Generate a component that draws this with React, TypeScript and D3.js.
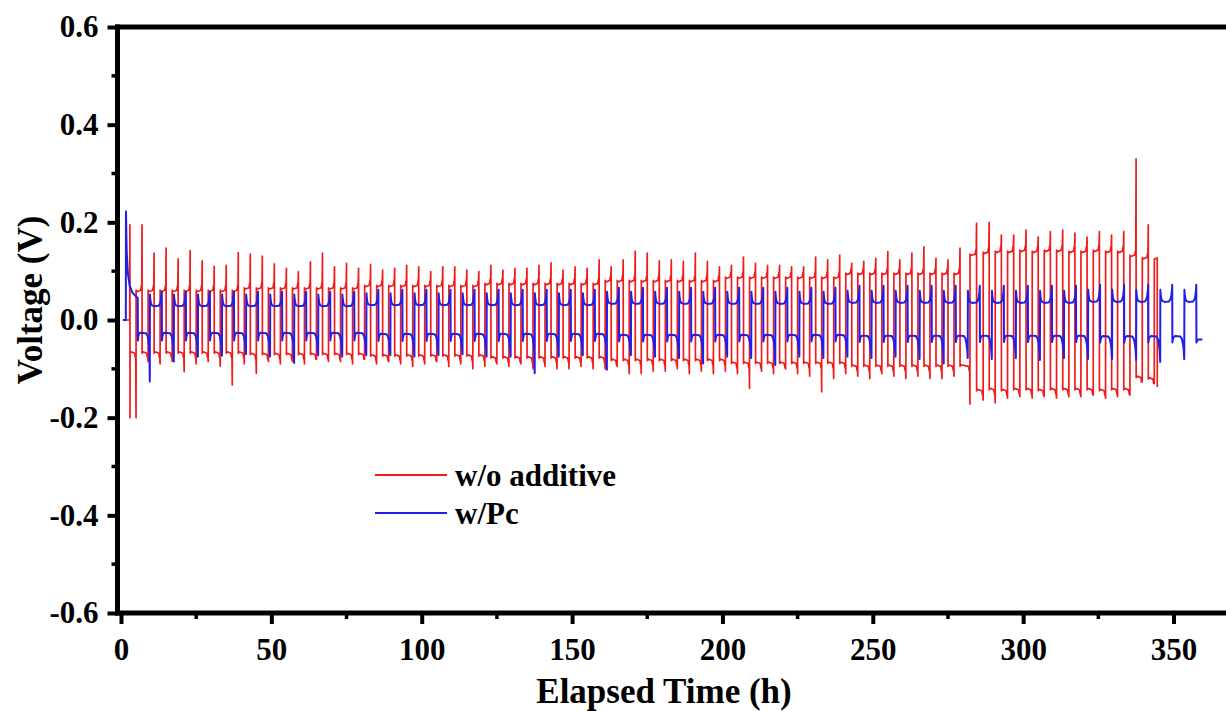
import React, { useEffect, useRef } from 'react';
import * as d3 from 'd3';

type Pt = [number, number];

// axis ticks
const yMajorTicks = [-0.6, -0.4, -0.2, 0, 0.2, 0.4, 0.6];
const yMinorTicks = [-0.5, -0.3, -0.1, 0.1, 0.3, 0.5];
const xMajorTicks = [0, 50, 100, 150, 200, 250, 300, 350];
const xMinorTicks = [25, 75, 125, 175, 225, 275, 325, 375];

const seriesNames = ['w/o additive', 'w/Pc'];
const seriesColors = ['#f01c1c', '#1f1fe6'];

// ---- w/o additive ----
// stage 1: 2 h / 2 h cycles, positive half of cycle k ends at redFirstTop + 4k
const redFirstTop = 3.0;
const redCycleHours = 4.0;
const redLead: Pt[] = [[0.7, 0], [2.9, 0], [2.95, 0.195], [3.0, -0.2]];
// spike at the end of each positive half (k = 0..69)
const redTop = [
  0.195, 0.195, 0.137, 0.147, 0.125, 0.142, 0.121, 0.110, 0.112, 0.138,
  0.135, 0.131, 0.115, 0.106, 0.099, 0.119, 0.137, 0.109, 0.116, 0.106,
  0.114, 0.102, 0.106, 0.112, 0.109, 0.099, 0.109, 0.109, 0.102, 0.099,
  0.112, 0.102, 0.106, 0.106, 0.112, 0.117, 0.102, 0.109, 0.106, 0.123,
  0.109, 0.123, 0.141, 0.137, 0.121, 0.123, 0.120, 0.137, 0.120, 0.109,
  0.112, 0.129, 0.116, 0.112, 0.112, 0.109, 0.109, 0.129, 0.123, 0.133,
  0.116, 0.120, 0.126, 0.140, 0.123, 0.137, 0.150, 0.126, 0.123, 0.147,
];
// spike at the end of each negative half (k = 0..68)
const redBottom = [
  -0.2, -0.085, -0.09, -0.085, -0.106, -0.09, -0.085, -0.095, -0.133, -0.09,
  -0.109, -0.085, -0.09, -0.085, -0.09, -0.08, -0.085, -0.085, -0.09, -0.08,
  -0.09, -0.085, -0.09, -0.095, -0.09, -0.085, -0.095, -0.09, -0.1, -0.095,
  -0.09, -0.095, -0.09, -0.1, -0.095, -0.1, -0.1, -0.095, -0.1, -0.1,
  -0.095, -0.11, -0.11, -0.105, -0.105, -0.1, -0.11, -0.105, -0.11, -0.105,
  -0.11, -0.14, -0.105, -0.11, -0.1, -0.11, -0.115, -0.147, -0.12, -0.11,
  -0.115, -0.12, -0.11, -0.115, -0.12, -0.115, -0.12, -0.12, -0.115,
];
// plateau levels, one per block of 10 cycles
const redHiLevel = [0.058, 0.063, 0.068, 0.072, 0.078, 0.085, 0.093];
const redLoLevel = [-0.065, -0.068, -0.071, -0.075, -0.08, -0.086, -0.092];

// stage 2 (after ~282 h, larger polarisation)
const red2BottomTimes = [282.3, 286.7, 290.7, 294.8, 298.9, 303.0, 307.0, 311.1, 315.2, 319.2, 323.3, 327.4, 331.4, 335.5, 339.6, 343.6];
const red2Bottom = [-0.172, -0.164, -0.17, -0.16, -0.157, -0.16, -0.157, -0.16, -0.157, -0.157, -0.154, -0.16, -0.157, -0.154, -0.123, -0.13];
const red2Top = [0.198, 0.2, 0.174, 0.174, 0.184, 0.17, 0.181, 0.184, 0.178, 0.17, 0.181, 0.174, 0.181, 0.33, 0.195];
const red2HiLevel = [0.132, 0.136, 0.138, 0.138, 0.14, 0.138, 0.14, 0.14, 0.138, 0.138, 0.14, 0.138, 0.138, 0.13, 0.125, 0.125];
const red2LoLevel = [-0.142, -0.14, -0.142, -0.14, -0.14, -0.142, -0.14, -0.14, -0.14, -0.14, -0.142, -0.14, -0.14, -0.115, -0.118];
const redEnd = 344.6;
const redEndValue = -0.137;

// ---- w/Pc ----
// 4 h / 4 h cycles, upper half of cycle m starts at blueFirstRise + 8m
const blueFirstRise = 1.6;
const blueCycleHours = 8.0;
const blueLead: Pt[] = [
  [0.6, 0], [1.6, 0], [1.65, 0.222], [1.9, 0.14], [2.3, 0.095], [2.9, 0.07],
  [3.8, 0.056], [5.0, 0.048], [5.57, 0.045],
];
// end of each lower half (m = 0..43)
const blueLowEnd = [
  -0.126, -0.085, -0.075, -0.073, -0.07, -0.075, -0.088, -0.072, -0.075, -0.072,
  -0.072, -0.075, -0.072, -0.07, -0.075, -0.075, -0.109, -0.075, -0.072, -0.102,
  -0.072, -0.075, -0.078, -0.089, -0.075, -0.078, -0.092, -0.075, -0.078, -0.075,
  -0.078, -0.075, -0.08, -0.089, -0.078, -0.08, -0.078, -0.082, -0.078, -0.08,
  -0.08, -0.082, -0.086, -0.08,
];
// one value per block of 10 cycles
const blueHiStart = [0.052, 0.055, 0.058, 0.06, 0.062];
const blueHiLevel = [0.028, 0.03, 0.033, 0.035, 0.037];
const blueHiEnd = [0.058, 0.062, 0.066, 0.07, 0.072];
const blueLoStart = [-0.042, -0.043, -0.044, -0.045, -0.046];
const blueLoLevel = [-0.026, -0.028, -0.03, -0.032, -0.033];
const blueEnd = 359.6;
const blueEndLevel = -0.04;

// one half cycle of the red trace: flat plateau, small hook, spike at the end
const redHalf = (ta: number, tb: number, level: number, spike: number, sign: number): Pt[] => [
  [ta + 0.02, level + sign * 0.003],
  [ta + 0.3, level],
  [tb - 0.45, level + sign * 0.003],
  [tb - 0.22, level + sign * 0.012],
  [tb - 0.1, level + sign * 0.012],
  [tb, spike],
];

// blue upper half: "U" (decay after the step, flat, rise at the end)
const blueUpper = (ta: number, tb: number, start: number, level: number, end: number): Pt[] => [
  [ta + 0.02, start],
  [ta + 0.15, level + 0.014],
  [ta + 0.35, level + 0.006],
  [ta + 0.7, level + 0.002],
  [ta + 1.4, level],
  [tb - 1.1, level + 0.001],
  [tb - 0.65, level + 0.005],
  [tb - 0.35, level + 0.012],
  [tb - 0.15, level + 0.022],
  [tb - 0.03, end],
];

// blue lower half: rounded hump, then a drop at the end
const blueLower = (ta: number, tb: number, start: number, level: number, end: number): Pt[] => [
  [ta + 0.02, start],
  [ta + 0.15, level - 0.008],
  [ta + 0.4, level - 0.002],
  [ta + 0.9, level],
  [tb - 1.3, level - 0.001],
  [tb - 0.8, level - 0.006],
  [tb - 0.45, level - 0.016],
  [tb - 0.2, level - 0.03],
  [tb - 0.03, end],
];

function buildRed(): Pt[] {
  const pts: Pt[] = [...redLead];
  for (let k = 0; k < redTop.length; k++) {
    const tTop = redFirstTop + k * redCycleHours;
    const b = Math.floor(k / 10);
    if (k > 0) pts.push(...redHalf(tTop - redCycleHours / 2, tTop, redHiLevel[b], redTop[k], 1));
    const last = k === redTop.length - 1;
    const tb = last ? red2BottomTimes[0] : tTop + redCycleHours / 2;
    pts.push(...redHalf(tTop, tb, redLoLevel[b], last ? red2Bottom[0] : redBottom[k], -1));
  }
  for (let j = 0; j < red2Top.length; j++) {
    const tb0 = red2BottomTimes[j];
    const tb1 = red2BottomTimes[j + 1];
    const tt = (tb0 + tb1) / 2;
    pts.push(...redHalf(tb0, tt, red2HiLevel[j], red2Top[j], 1));
    pts.push(...redHalf(tt, tb1, red2LoLevel[j], red2Bottom[j + 1], -1));
  }
  const tLast = red2BottomTimes[red2BottomTimes.length - 1];
  const lvl = red2HiLevel[red2HiLevel.length - 1];
  pts.push([tLast + 0.02, lvl], [redEnd - 0.02, lvl + 0.002], [redEnd, redEndValue]);
  return pts;
}

function buildBlue(): Pt[] {
  const pts: Pt[] = [...blueLead];
  const n = blueLowEnd.length;
  for (let m = 0; m <= n; m++) {
    const tUp = blueFirstRise + m * blueCycleHours;
    const tDown = tUp + blueCycleHours / 2;
    const b = Math.min(Math.floor(m / 10), blueHiLevel.length - 1);
    if (m > 0) pts.push(...blueUpper(tUp, tDown, blueHiStart[b], blueHiLevel[b], blueHiEnd[b]));
    if (m < n) {
      pts.push(...blueLower(tDown, tDown + blueCycleHours / 2, blueLoStart[b], blueLoLevel[b], blueLowEnd[m]));
    } else {
      pts.push([tDown + 0.02, blueEndLevel - 0.006], [tDown + 0.5, blueEndLevel], [blueEnd, blueEndLevel]);
    }
  }
  return pts;
}

const FONT = "'Liberation Serif', 'Times New Roman', serif";

export default function App() {
  const ref = useRef<SVGSVGElement>(null);

  useEffect(() => {
    const svg = d3.select(ref.current);
    svg.selectAll('*').remove();

    const left = 117.5;
    const top = 27;
    const bottom = 613;

    const x = d3.scaleLinear().domain([-1.165, 375]).range([left, 1248.7]);
    const y = d3.scaleLinear().domain([-0.6, 0.6]).range([bottom, top]);

    // data lines
    const line = d3.line<Pt>().x(d => x(d[0])).y(d => y(d[1]));
    svg.append('path')
      .datum(buildRed())
      .attr('fill', 'none')
      .attr('stroke', seriesColors[0])
      .attr('stroke-width', 1.7)
      .attr('stroke-linejoin', 'round')
      .attr('d', line);
    svg.append('path')
      .datum(buildBlue())
      .attr('fill', 'none')
      .attr('stroke', seriesColors[1])
      .attr('stroke-width', 2)
      .attr('stroke-linejoin', 'round')
      .attr('d', line);

    // y axis ticks + labels
    const yAxis = svg.append('g')
      .attr('transform', `translate(${left},0)`)
      .call(d3.axisLeft(y).tickValues(yMajorTicks).tickSizeInner(10).tickSizeOuter(0).tickPadding(9)
        .tickFormat(d => (+d).toFixed(1)));
    yAxis.select('.domain').remove();
    yAxis.selectAll('.tick line').attr('stroke', '#000').attr('stroke-width', 4);
    yAxis.selectAll('.tick text')
      .attr('fill', '#000')
      .style('font-family', FONT)
      .style('font-weight', 'bold')
      .style('font-size', '31px');
    svg.append('g').selectAll('line').data(yMinorTicks).join('line')
      .attr('x1', left - 6).attr('x2', left)
      .attr('y1', d => y(d)).attr('y2', d => y(d))
      .attr('stroke', '#000').attr('stroke-width', 3.5);

    // x axis ticks + labels
    const xAxis = svg.append('g')
      .attr('transform', `translate(0,${bottom})`)
      .call(d3.axisBottom(x).tickValues(xMajorTicks).tickSizeInner(11).tickSizeOuter(0).tickPadding(14)
        .tickFormat(d => String(d)));
    xAxis.select('.domain').remove();
    xAxis.selectAll('.tick line').attr('stroke', '#000').attr('stroke-width', 4);
    xAxis.selectAll('.tick text')
      .attr('fill', '#000')
      .style('font-family', FONT)
      .style('font-weight', 'bold')
      .style('font-size', '31px');
    svg.append('g').selectAll('line').data(xMinorTicks).join('line')
      .attr('x1', d => x(d)).attr('x2', d => x(d))
      .attr('y1', bottom).attr('y2', bottom + 6)
      .attr('stroke', '#000').attr('stroke-width', 3.5);

    // frame (right side runs off the picture)
    const frame = svg.append('g').attr('stroke', '#000').attr('stroke-width', 5).attr('stroke-linecap', 'square');
    frame.append('line').attr('x1', left).attr('x2', left).attr('y1', top).attr('y2', bottom);
    frame.append('line').attr('x1', left).attr('x2', 1240).attr('y1', top).attr('y2', top);
    frame.append('line').attr('x1', left).attr('x2', 1240).attr('y1', bottom).attr('y2', bottom);

    // axis titles
    svg.append('text')
      .attr('x', 664).attr('y', 703)
      .attr('text-anchor', 'middle')
      .style('font-family', FONT).style('font-weight', 'bold').style('font-size', '35px')
      .text('Elapsed Time (h)');
    svg.append('text')
      .attr('transform', 'translate(42,300) rotate(-90)')
      .attr('text-anchor', 'middle')
      .style('font-family', FONT).style('font-weight', 'bold').style('font-size', '35px')
      .text('Voltage (V)');

    // legend
    const legend = svg.append('g').attr('transform', 'translate(375,475)');
    seriesNames.forEach((name, i) => {
      legend.append('line')
        .attr('x1', 0).attr('x2', 72)
        .attr('y1', i * 38).attr('y2', i * 38)
        .attr('stroke', seriesColors[i]).attr('stroke-width', 2);
      legend.append('text')
        .attr('x', 80).attr('y', i * 38 + 11)
        .style('font-family', FONT).style('font-weight', 'bold').style('font-size', '31px')
        .text(name);
    });
  }, []);

  return (
    <svg
      ref={ref}
      width={1226}
      height={711}
      style={{ position: 'absolute', left: 0, top: 0, background: '#fff' }}
    />
  );
}
